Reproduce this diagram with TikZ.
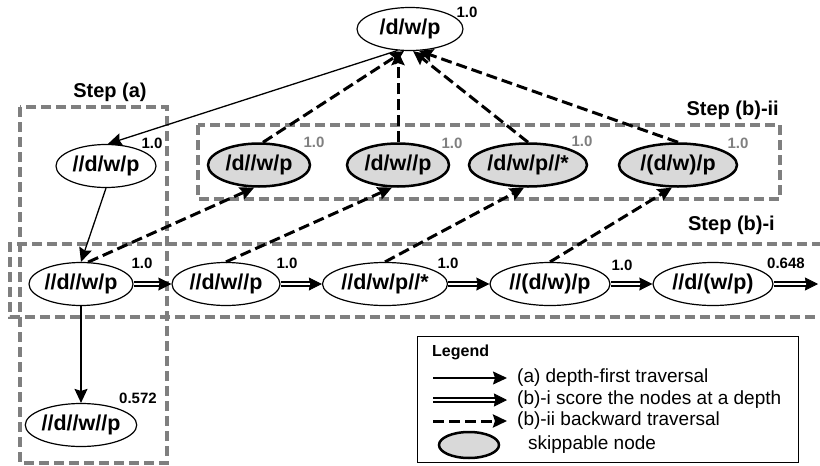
\documentclass[tikz,border=0pt]{standalone}
\usepackage{fontspec}
\setmainfont{Liberation Sans}
\usetikzlibrary{shapes.geometric,arrows.meta}
\definecolor{boxgray}{HTML}{7F7F7F}
\definecolor{skipfill}{HTML}{D9D9D9}
\definecolor{scoregray}{HTML}{808080}
\tikzset{
  qnode/.style={ellipse, draw, line width=1.2pt, inner sep=0pt, minimum height=43pt,
    font=\bfseries\fontsize{21.5}{25}\selectfont},
  skipnode/.style={qnode, fill=skipfill, line width=2.5pt},
  score/.style={font=\bfseries\fontsize{15}{17}\selectfont, inner sep=0pt},
  gscore/.style={score, text=scoregray},
  steplabel/.style={font=\bfseries\fontsize{20}{23}\selectfont, inner sep=0pt},
  stepbox/.style={draw=boxgray, line width=3.6pt, dash pattern=on 10pt off 5pt},
  tip/.style={-{Stealth[length=14pt,width=13pt,inset=2pt]}},
  dfs/.style={tip, line width=1.3pt},
  back/.style={tip, line width=3pt, dash pattern=on 11pt off 5pt},
  dbl/.style={line width=0.8pt, -{Stealth[length=13pt,width=13pt,inset=1pt]},
    preaction={draw, line width=5.8pt, shorten >=12pt, arrows=-},
    postaction={draw=white, line width=2.8pt, shorten >=12pt, arrows=-}},
  legtext/.style={font=\fontsize{19}{22}\selectfont, inner sep=0pt, anchor=west}
}
\begin{document}
\begin{tikzpicture}[x=1pt,y=-1pt]
\useasboundingbox (0,0) rectangle (820,466);
% step boxes
\draw[stepbox] (20,107) rectangle (167,463);
\draw[stepbox] (198,125) rectangle (780,199);
\draw[stepbox] (822,244) -- (10,244) -- (10,317) -- (822,317);
\node[steplabel] (sa) at (110,92) {Step (a)};
\node[steplabel, anchor=east] (sbii) at (779,110) {Step (b)-ii};
\node[steplabel, anchor=east] (sbi) at (775,225) {Step (b)-i};
% nodes
\node[qnode, minimum width=106pt] (top) at (410,29) {/d/w/p};
\node[qnode, minimum width=100pt] (L1) at (106,166) {//d/w/p};
\node[skipnode, minimum width=102pt] (G1) at (259,165) {/d//w/p};
\node[skipnode, minimum width=102pt] (G2) at (398,165) {/d/w//p};
\node[skipnode, minimum width=118pt] (G3) at (528,165) {/d/w/p//*};
\node[skipnode, minimum width=118pt] (G4) at (678,165) {/(d/w)/p};
\node[qnode, minimum width=104pt] (R1) at (81,284) {//d//w/p};
\node[qnode, minimum width=108pt] (R2) at (226,284) {//d/w//p};
\node[qnode, minimum width=125pt] (R3) at (385,284) {//d/w/p//*};
\node[qnode, minimum width=120pt] (R4) at (550,284) {//(d/w)/p};
\node[qnode, minimum width=120pt] (R5) at (713,284) {//d/(w/p)};
\node[qnode, minimum width=104pt] (B) at (81,425) {//d//w//p};
\coordinate (Rend) at (818,284);
% scores
\node[score] (stop) at (467,12) {1.0};
\node[score] (sL1) at (152,143) {1.0};
\node[gscore] (sG1) at (314,142) {1.0};
\node[gscore] (sG2) at (452,143) {1.0};
\node[gscore] (sG3) at (582,141) {1.0};
\node[gscore] (sG4) at (738,143) {1.0};
\node[score] (sR1) at (142,263) {1.0};
\node[score] (sR2) at (287,263) {1.0};
\node[score] (sR3) at (448,263) {1.0};
\node[score] (sR4) at (622,265) {1.0};
\node[score] (sR5) at (786,263) {0.648};
\node[score] (sB) at (138,398) {0.572};
% depth-first traversal
\draw[dfs] (top.240) -- (L1.85);
\draw[dfs] (L1.south) -- (R1.north);
\draw[dfs] (R1.south) -- (B.north);
% scoring at a depth
\draw[dbl] (R1.east) -- (R2.west);
\draw[dbl] (R2.east) -- (R3.west);
\draw[dbl] (R3.east) -- (R4.west);
\draw[dbl] (R4.east) -- (R5.west);
\draw[dbl] (R5.east) -- (Rend);
% backward traversal
\draw[back] (R1.72) -- (G1.258);
\draw[back] (R2.north) -- (G2.255);
\draw[back] (R3.north) -- (G3.260);
\draw[back] (R4.north) -- (G4.255);
\draw[back] (G1.80) -- (top.255);
\draw[back] (G2.north) -- (G2.north |- top.south);
\draw[back] (G3.north) -- (top.278);
\draw[back] (G4.north) -- (top.292);
% legend
\node[draw, line width=1.1pt, minimum width=381pt, minimum height=126pt, anchor=north west, inner sep=0pt] (leg) at (417,336) {};
\node[font=\bfseries\fontsize{16}{19}\selectfont, inner sep=0pt, anchor=west] (legt) at (432,352) {Legend};
\coordinate (la1) at (433,378); \coordinate (lb1) at (507,378);
\coordinate (la2) at (433,400); \coordinate (lb2) at (507,400);
\coordinate (la3) at (433,421); \coordinate (lb3) at (507,421);
\draw[dfs] (la1) -- (lb1);
\draw[dbl] (la2) -- (lb2);
\draw[back] (la3) -- (lb3);
\node[ellipse, draw, fill=skipfill, line width=2.5pt, minimum width=60pt, minimum height=26pt, inner sep=0pt] (lskip) at (469,445) {};
\node[legtext] (lt1) at (517,378) {(a) depth-first traversal};
\node[legtext] (lt2) at (517,400) {(b)-i score the nodes at a depth};
\node[legtext] (lt3) at (517,421) {(b)-ii backward traversal};
\node[legtext] (lt4) at (528,445) {skippable node};
\end{tikzpicture}
\end{document}
